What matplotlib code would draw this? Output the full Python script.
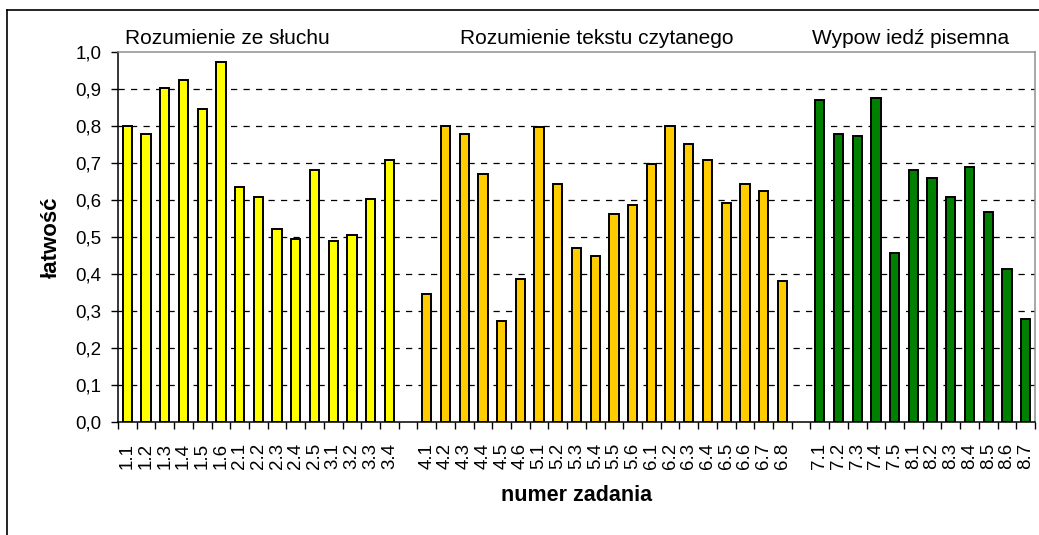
import matplotlib
matplotlib.use("Agg")
import matplotlib.pyplot as plt
from matplotlib.lines import Line2D
import numpy as np

plt.rcParams['font.family'] = ['Liberation Sans', 'DejaVu Sans']

labels_g1 = ["1.1", "1.2", "1.3", "1.4", "1.5", "1.6", "2.1", "2.2", "2.3", "2.4", "2.5",
             "3.1", "3.2", "3.3", "3.4"]
values_g1 = [0.80, 0.778, 0.903, 0.925, 0.846, 0.972, 0.635, 0.607, 0.522, 0.494, 0.681,
             0.488, 0.505, 0.602, 0.709]
labels_g2 = ["4.1", "4.2", "4.3", "4.4", "4.5", "4.6", "5.1", "5.2", "5.3", "5.4", "5.5", "5.6",
             "6.1", "6.2", "6.3", "6.4", "6.5", "6.6", "6.7", "6.8"]
values_g2 = [0.346, 0.80, 0.778, 0.670, 0.272, 0.385, 0.796, 0.643, 0.471, 0.449, 0.561, 0.585,
             0.698, 0.80, 0.750, 0.709, 0.591, 0.643, 0.623, 0.381]
labels_g3 = ["7.1", "7.2", "7.3", "7.4", "7.5", "8.1", "8.2", "8.3", "8.4", "8.5", "8.6", "8.7"]
values_g3 = [0.870, 0.778, 0.773, 0.875, 0.455, 0.681, 0.659, 0.607, 0.688, 0.568, 0.414, 0.279]

group_titles = ["Rozumienie ze słuchu", "Rozumienie tekstu czytanego", "Wypow iedź pisemna"]
colors = ["#FFFF00", "#FFCC00", "#008000"]
yticks = [0.0, 0.1, 0.2, 0.3, 0.4, 0.5, 0.6, 0.7, 0.8, 0.9, 1.0]

W, H = 1039, 535
fig = plt.figure(figsize=(W / 100, H / 100), dpi=100)
ax = fig.add_axes([118 / W, 1 - 421.7 / H, (1035 - 118) / W, (421.7 - 52) / H])

groups = [(labels_g1, values_g1), (labels_g2, values_g2), (labels_g3, values_g3)]
pos = 0
all_pos, all_labels = [], []
for i, (lab, val) in enumerate(groups):
    x = np.arange(pos, pos + len(lab))
    ax.bar(x, val, width=0.5, color=colors[i], edgecolor="black", linewidth=1.4, zorder=3)
    all_pos.extend(x)
    all_labels.extend(lab)
    pos += len(lab) + 1
n_slots = pos - 1

ax.set_xlim(-0.5, n_slots - 0.5)
ax.set_ylim(0, 1.0)
ax.set_yticks(yticks)
ax.set_yticklabels([f"{v:.1f}".replace(".", ",") for v in yticks], fontsize=13.5)
ax.set_xticks(all_pos)
ax.set_xticklabels(all_labels, rotation=90, fontsize=13.5)
ax.tick_params(axis="x", length=0, pad=15)
ax.set_xticks(np.arange(-0.5, n_slots, 1.0), minor=True)
ax.tick_params(axis="x", which="minor", length=5, width=1, color="black", direction="out")
ax.tick_params(axis="y", length=5, width=1, direction="out", pad=7)

for v in yticks[1:-1]:
    ax.axhline(v, color="black", linewidth=0.9, linestyle=(0, (5, 5)), zorder=1)

for s in ["left", "bottom"]:
    ax.spines[s].set_color("black")
    ax.spines[s].set_linewidth(1.1)
for s in ["top", "right"]:
    ax.spines[s].set_color("#909090")
    ax.spines[s].set_linewidth(1.1)

ax.set_ylabel("łatwość", fontsize=16, fontweight="bold", labelpad=10)
ax.set_xlabel("numer zadania", fontsize=15.5, fontweight="bold", labelpad=12)

title_x = [125, 460, 812]
for t, xp in zip(group_titles, title_x):
    fig.text(xp / W, 1 - 43.5 / H, t, fontsize=15, ha="left", va="baseline")

fig.add_artist(Line2D([7 / W, 1], [1 - 10 / H, 1 - 10 / H], color="black", linewidth=1.2,
                      transform=fig.transFigure))
fig.add_artist(Line2D([7 / W, 7 / W], [0, 1 - 10 / H], color="black", linewidth=1.2,
                      transform=fig.transFigure))

fig.savefig("out.png", dpi=100)
